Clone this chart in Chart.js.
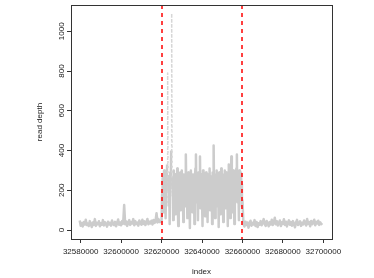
<!DOCTYPE html>
<html>
<head>
<meta charset="utf-8">
<script src="https://cdn.jsdelivr.net/npm/chart.js@4/dist/chart.umd.min.js"></script>
<style>
  html, body { margin: 0; padding: 0; background: #fff; }
  #wrap { width: 374px; height: 278px; }
</style>
</head>
<body>
<div id="wrap"><canvas id="chart"></canvas></div>
<script>
// read depth before the first breakpoint, one reading every 500 bp
const leftStart = 32579500;
const leftStep = 500;
const leftDepth = [
  48, 22, 35, 18, 40, 28, 52, 25, 33, 20,
  45, 30, 15, 38, 26, 55, 21, 36, 29, 44,
  19, 34, 27, 50, 23, 39, 31, 17, 42, 28,
  36, 22, 48, 30, 25, 41, 19, 35, 53, 27,
  38, 24, 46, 32, 126, 29, 43, 21, 37, 50,
  26, 40, 33, 55, 24, 45, 30, 38, 22, 48,
  35, 27, 52, 31, 44, 25, 39, 56, 29, 42,
  33, 47, 28, 51, 36, 43, 85, 38, 55, 40];

// amplified region between the two breakpoints, every 250 bp
const midStart = 32620000;
const midStep = 250;
const midDepth = [
  40, 180, 260, 90, 230, 300, 150, 250, 60, 280,
  200, 330, 790, 120, 270, 240, 30, 290, 210, 400,
  1090, 170, 260, 50, 300, 230, 190, 280, 80, 250,
  220, 310, 140, 20, 270, 240, 180, 290, 100, 260,
  300, 160, 230, 40, 280, 210, 250, 120, 380, 190,
  270, 60, 240, 290, 170, 220, 10, 260, 300, 150,
  250, 90, 280, 200, 230, 30, 270, 310, 380, 140,
  260, 180, 50, 290, 220, 250, 370, 110, 240, 280,
  160, 20, 300, 230, 190, 270, 70, 250, 290, 140,
  220, 40, 280, 260, 180, 310, 100, 240, 200, 270,
  30, 290, 230, 425, 160, 250, 60, 280, 210, 300,
  120, 240, 270, 15, 290, 190, 250, 80, 310, 230,
  170, 280, 40, 260, 220, 300, 110, 240, 290, 150,
  270, 20, 250, 330, 190, 280, 60, 230, 370, 200,
  260, 90, 300, 240, 30, 290, 180, 270, 310, 380,
  140, 260, 220, 50, 300, 250, 170, 290, 230, 120];

// after the second breakpoint, every 500 bp
const rightStart = 32660000;
const rightStep = 500;
const rightDepth = [
  150, 30, 18, 42, 25, 38, 12, 33, 47, 22,
  36, 28, 50, 20, 41, 15, 34, 27, 45, 24,
  38, 55, 30, 21, 46, 33, 19, 40, 28, 52,
  25, 37, 62, 29, 44, 23, 35, 48, 20, 39,
  31, 54, 26, 42, 18, 36, 49, 27, 40, 22,
  45, 30, 14, 38, 51, 25, 33, 44, 21, 37,
  28, 48, 35, 23, 56, 31, 40, 19, 46, 29,
  38, 52, 24, 41, 33, 47, 26, 39, 30, 35];

const breakpoints = [32620000, 32660000];
const xTicks = [32580000, 32600000, 32620000, 32640000, 32660000, 32680000, 32700000];
const yTicks = [0, 200, 400, 600, 800, 1000];
const xMin = 32575200, xMax = 32704300;
const yMin = -45, yMax = 1132;

const font = { family: '"Liberation Sans", Arial, sans-serif', size: 8 };
const textColor = '#222';
const spikeLevel = 500;

const toPoints = (start, step, depths) => depths.map((d, i) => ({ x: start + i * step, y: d }));
const depthPoints = [
  ...toPoints(leftStart, leftStep, leftDepth),
  ...toPoints(midStart, midStep, midDepth),
  ...toPoints(rightStart, rightStep, rightDepth),
];

const isSpike = c => c.p0.parsed.y > spikeLevel || c.p1.parsed.y > spikeLevel;

// box, breakpoint lines and vertical y labels (R style)
const framePlugin = {
  id: 'framePlugin',
  afterDraw(chart) {
    const { ctx, chartArea: a, scales: { x, y } } = chart;
    ctx.save();
    ctx.strokeStyle = '#ff0000';
    ctx.lineWidth = 1.5;
    ctx.setLineDash([4, 4]);
    breakpoints.forEach(b => {
      const px = Math.round(x.getPixelForValue(b));
      ctx.beginPath();
      ctx.moveTo(px, a.top);
      ctx.lineTo(px, a.bottom);
      ctx.stroke();
    });
    ctx.setLineDash([]);

    ctx.strokeStyle = '#333';
    ctx.lineWidth = 1;
    ctx.strokeRect(Math.round(a.left) + 0.5, Math.round(a.top) + 0.5,
      Math.round(a.right - a.left), Math.round(a.bottom - a.top));

    ctx.fillStyle = textColor;
    ctx.font = `${font.size}px ${font.family}`;
    ctx.textAlign = 'center';
    ctx.textBaseline = 'middle';
    yTicks.forEach(v => {
      ctx.save();
      ctx.translate(a.left - 9, y.getPixelForValue(v));
      ctx.rotate(-Math.PI / 2);
      ctx.fillText(String(v), 0, 0);
      ctx.restore();
    });
    ctx.restore();
  }
};

new Chart(document.getElementById('chart'), {
  type: 'line',
  data: {
    datasets: [{
      data: depthPoints,
      borderColor: '#cccccc',
      borderWidth: 2.5,
      borderJoinStyle: 'round',
      pointRadius: 0,
      tension: 0,
      segment: {
        borderColor: c => isSpike(c) ? '#d6d6d6' : undefined,
        borderWidth: c => isSpike(c) ? 1.5 : undefined,
        borderDash: c => isSpike(c) ? [2, 3] : undefined,
      }
    }]
  },
  options: {
    responsive: true,
    maintainAspectRatio: false,
    animation: false,
    devicePixelRatio: 1,
    layout: { padding: { top: 5, right: 42, left: 0, bottom: 0 } },
    plugins: { legend: { display: false }, tooltip: { enabled: false } },
    scales: {
      x: {
        type: 'linear',
        min: xMin,
        max: xMax,
        afterBuildTicks: s => { s.ticks = xTicks.map(v => ({ value: v })); },
        afterFit: s => { s.height = 39; },
        grid: { drawOnChartArea: false, tickLength: 4, color: '#333' },
        border: { display: false },
        ticks: { color: textColor, font, padding: 4, maxRotation: 0, autoSkip: false, callback: v => String(v) },
        title: { display: true, text: 'index', color: textColor, font, padding: { top: 0, bottom: 1 } }
      },
      y: {
        type: 'linear',
        min: yMin,
        max: yMax,
        afterBuildTicks: s => { s.ticks = yTicks.map(v => ({ value: v })); },
        afterFit: s => { s.width = 71; },
        grid: { drawOnChartArea: false, tickLength: 4, color: '#333' },
        border: { display: false },
        ticks: { display: false },
        title: { display: true, text: 'read depth', color: textColor, font, padding: { top: 35, bottom: 0 } }
      }
    }
  },
  plugins: [framePlugin]
});
</script>
</body>
</html>
